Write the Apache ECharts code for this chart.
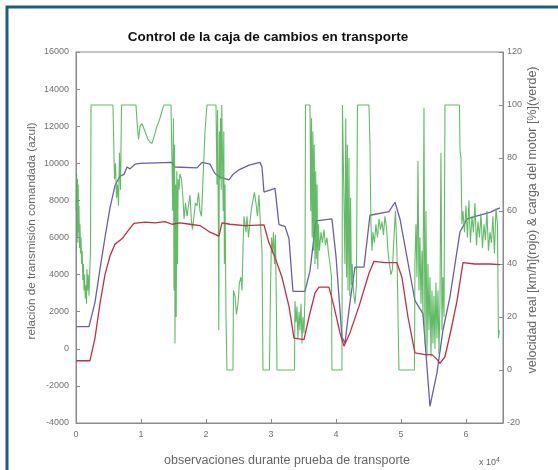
<!DOCTYPE html>
<html>
<head>
<meta charset="utf-8">
<style>
  html, body { margin: 0; padding: 0; background: #ffffff; }
  #chart { width: 558px; height: 470px; }
</style>
<script src="https://cdn.jsdelivr.net/npm/echarts@6/dist/echarts.min.js"></script>
</head>
<body>
<div id="chart"></div>
<script>
// Observations are in units of 10^4 samples.
const xTicks = [0, 1, 2, 3, 4, 5, 6];
const ratioTicks = [-4000, -2000, 0, 2000, 4000, 6000, 8000, 10000, 12000, 14000, 16000];
const rightTicks = [-20, 0, 20, 40, 60, 80, 100, 120];

// Commanded gear ratio (blue, left axis)
const ratioObs = [0.000, 0.200, 0.292, 0.369, 0.446, 0.523, 0.600, 0.677, 0.738, 0.785, 0.831, 0.908, 0.985, 1.477, 1.523, 1.862, 1.938, 2.062, 2.138, 2.215, 2.354, 2.415, 2.508, 2.662, 2.831, 2.862, 2.892, 3.062, 3.123, 3.215, 3.277, 3.338, 3.523, 3.600, 3.692, 3.938, 4.000, 4.092, 4.138, 4.215, 4.292, 4.431, 4.523, 4.815, 4.908, 4.985, 5.215, 5.338, 5.446, 5.554, 5.646, 5.754, 5.908, 6.015, 6.215, 6.369, 6.523];
const ratioVal = [1200, 1200, 2500, 4300, 6000, 7600, 8800, 9300, 9400, 9800, 9700, 9950, 10000, 10050, 9800, 9750, 10050, 9950, 9450, 9250, 9100, 9400, 9650, 9900, 10050, 9800, 8450, 8650, 6700, 6600, 5950, 3100, 3100, 4200, 6900, 7000, 5000, 650, 300, 2500, 4400, 4400, 7200, 7400, 7900, 7000, 2600, 1900, -3100, -1300, 1000, 2800, 6300, 7000, 7200, 7350, 7600];

// Real speed in km/h (red, right axis)
const speedObs = [0.000, 0.215, 0.292, 0.369, 0.446, 0.523, 0.600, 0.708, 0.800, 0.892, 1.062, 1.215, 1.369, 1.477, 1.600, 1.754, 1.908, 2.062, 2.200, 2.246, 2.369, 2.600, 2.892, 2.969, 3.062, 3.169, 3.277, 3.354, 3.508, 3.585, 3.677, 3.738, 3.892, 3.969, 4.062, 4.123, 4.215, 4.354, 4.508, 4.585, 4.754, 4.938, 5.015, 5.108, 5.215, 5.369, 5.477, 5.554, 5.600, 5.677, 5.769, 5.862, 5.954, 6.138, 6.369, 6.523];
const speedVal = [3.5, 3.5, 12, 25, 36, 43, 47.5, 49.5, 52.5, 55.3, 55.8, 55.5, 56, 55, 55.5, 55, 54.5, 52, 50.5, 55.5, 55, 54.5, 54.8, 48, 42.5, 35, 24, 12, 11.5, 20, 29, 31.3, 31.3, 24, 14, 9, 14, 24, 36.5, 41, 40.5, 40.5, 35, 20, 6.5, 5.8, 5.8, 4, 2.5, 5, 15, 26, 40.5, 40, 40, 39.8];

// Engine load in % (green, right axis)
const loadObs = [0.003, 0.009, 0.015, 0.022, 0.028, 0.034, 0.040, 0.046, 0.054, 0.062, 0.069, 0.077, 0.086, 0.095, 0.105, 0.114, 0.123, 0.132, 0.142, 0.151, 0.162, 0.169, 0.178, 0.188, 0.200, 0.223, 0.231,
  0.569, 0.592, 0.608, 0.623, 0.638, 0.654, 0.669, 0.685, 0.700,
  0.923, 0.938, 0.962, 0.985, 1.015, 1.062, 1.108, 1.138, 1.169, 1.200, 1.246, 1.292, 1.338, 1.354,
  1.462, 1.477, 1.489, 1.498, 1.508, 1.517, 1.523, 1.532, 1.542, 1.551, 1.562, 1.572, 1.585,
  1.600, 1.623, 1.646, 1.662, 1.685, 1.708, 1.731, 1.754, 1.777, 1.792, 1.815, 1.838, 1.862, 1.885, 1.908, 1.931, 1.954, 1.985, 2.015,
  2.154, 2.169, 2.178, 2.188, 2.197, 2.206, 2.215, 2.225, 2.234, 2.243, 2.254, 2.265, 2.274, 2.283, 2.292, 2.308, 2.323,
  2.415, 2.423, 2.446, 2.469, 2.492, 2.515, 2.538, 2.554, 2.569, 2.585, 2.615, 2.631, 2.654, 2.677, 2.700, 2.723, 2.746, 2.769, 2.792, 2.815, 2.838, 2.862, 2.877,
  2.977, 2.992, 3.008, 3.023, 3.038, 3.054, 3.069, 3.085, 3.092,
  3.362, 3.369, 3.385, 3.400, 3.415, 3.431, 3.446, 3.462, 3.477, 3.492, 3.508, 3.523, 3.531,
  3.600, 3.612, 3.623, 3.634, 3.645, 3.655, 3.666, 3.677, 3.688, 3.698, 3.709, 3.720, 3.731, 3.746, 3.769, 3.792, 3.815, 3.838, 3.862, 3.885, 3.908, 3.931, 3.938,
  4.092, 4.100, 4.123, 4.138, 4.151, 4.163, 4.175, 4.185, 4.200, 4.212, 4.225, 4.237, 4.249, 4.269, 4.292, 4.315, 4.331,
  4.508, 4.523, 4.538, 4.554, 4.569, 4.592, 4.615, 4.638, 4.662, 4.685, 4.708, 4.731, 4.754, 4.777, 4.800, 4.823, 4.846, 4.869, 4.892, 4.915, 4.938, 4.969,
  5.208, 5.215, 5.231, 5.246, 5.262, 5.277, 5.292, 5.308, 5.323, 5.338, 5.354, 5.369, 5.385, 5.400, 5.415, 5.431, 5.446, 5.462, 5.477, 5.492, 5.508, 5.523, 5.538, 5.554, 5.569, 5.585, 5.600, 5.615, 5.631, 5.646, 5.662, 5.677,
  5.900, 5.908, 5.923, 5.938, 5.954, 5.977, 6.000, 6.023, 6.046, 6.069, 6.092, 6.115, 6.138, 6.162, 6.185, 6.208, 6.231, 6.254, 6.277, 6.300, 6.323, 6.346, 6.369, 6.392, 6.415, 6.438, 6.462, 6.485, 6.500, 6.515];
const loadVal = [60, 74, 50, 72, 48, 70, 52, 62, 46, 55, 44, 50, 40, 45, 34, 40, 30, 36, 27, 32, 25, 38, 30, 36, 28, 45, 100,
  100, 72, 78, 65, 70, 62, 82, 68, 100,
  100, 94, 87, 92, 93, 90, 87, 86, 85.5, 88, 92, 95, 99, 100,
  100, 100, 60, 95, 30, 85, 10, 70, 20, 75, 40, 72, 68,
  74, 72, 65, 57, 63, 58, 62, 66, 56, 53, 58, 63, 62, 67, 60, 58, 72, 90, 100,
  100, 70, 98, 65, 15, 90, 72, 95, 68, 100, 100, 60, 90, 40, 70, 20, 0,
  0, 30, 28, 21, 25, 33, 35, 30, 45, 58, 52, 58, 50, 56, 61, 64, 67, 63, 58, 66, 55, 45, 0,
  0, 30, 50, 44, 52, 40, 51, 20, 0,
  0, 26, 18, 24, 12, 22, 15, 25, 10, 20, 14, 28, 100,
  100, 60, 95, 50, 90, 45, 85, 40, 75, 42, 70, 38, 55, 45, 52, 48, 53, 47, 50, 44, 40, 35, 0,
  0, 100, 100, 40, 95, 35, 85, 30, 80, 28, 65, 32, 40, 30, 25, 32, 100,
  100, 85, 55, 45, 52, 48, 55, 50, 57, 53, 56, 51, 58, 54, 45, 40, 36, 38, 50, 60, 45, 0,
  0, 40, 55, 35, 79, 30, 50, 25, 45, 20, 99, 10, 60, 5, 40, 15, 35, 5, 30, 10, 28, 8, 33, 12, 30, 6, 25, 82, 15, 35, 20, 100,
  100, 83, 80, 55, 60, 52, 62, 50, 64, 48, 58, 52, 63, 47, 56, 50, 59, 46, 55, 49, 60, 45, 52, 48, 58, 44, 61, 55, 12, 15];

const pairs = (xs, ys) => xs.map((x, i) => [x, ys[i]]);

const FONT = '"Liberation Sans", Arial, sans-serif';
const GREY = '#707070';
const AXIS = '#8a8a8a';

const chart = echarts.init(document.getElementById('chart'), null, { renderer: 'canvas' });

chart.setOption({
  backgroundColor: '#ffffff',
  animation: false,
  textStyle: { fontFamily: FONT },
  grid: {
    left: 76, right: 55, top: 52, bottom: 47,
    show: true, backgroundColor: '#ffffff', borderColor: AXIS, borderWidth: 1
  },
  xAxis: {
    type: 'value', min: 0, max: 6.57, interval: 1,
    axisLine: { onZero: false, lineStyle: { color: AXIS } },
    axisTick: { inside: true, length: 4, lineStyle: { color: AXIS } },
    axisLabel: {
      color: GREY, fontSize: 9, margin: 7,
      formatter: v => (xTicks.indexOf(Math.round(v * 1000) / 1000) >= 0 ? String(v) : '')
    },
    splitLine: { show: false }
  },
  yAxis: [
    {
      type: 'value', min: ratioTicks[0], max: ratioTicks[ratioTicks.length - 1], interval: 2000,
      position: 'left',
      axisLine: { show: true, onZero: false, lineStyle: { color: AXIS } },
      axisTick: { show: true, inside: true, length: 4, lineStyle: { color: AXIS } },
      axisLabel: { color: GREY, fontSize: 9, margin: 7, formatter: v => String(v) },
      splitLine: { show: false }
    },
    {
      type: 'value', min: rightTicks[0], max: rightTicks[rightTicks.length - 1], interval: 20,
      position: 'right',
      axisLine: { show: true, onZero: false, lineStyle: { color: AXIS } },
      axisTick: { show: true, inside: true, length: 4, lineStyle: { color: AXIS } },
      axisLabel: { color: GREY, fontSize: 9, margin: 4, formatter: v => String(v) },
      splitLine: { show: false }
    }
  ],
  series: [
    {
      name: 'relación', type: 'line', yAxisIndex: 0, showSymbol: false,
      data: pairs(ratioObs, ratioVal),
      lineStyle: { color: '#6a5fa6', width: 1.3 }, z: 2
    },
    {
      name: 'carga', type: 'line', yAxisIndex: 1, showSymbol: false,
      data: pairs(loadObs, loadVal),
      lineStyle: { color: '#47b04b', width: 1.1, opacity: 0.85 }, z: 3
    },
    {
      name: 'velocidad', type: 'line', yAxisIndex: 1, showSymbol: false,
      data: pairs(speedObs, speedVal),
      lineStyle: { color: '#c02f45', width: 1.3 }, z: 4
    }
  ],
  graphic: [
    {
      type: 'rect', silent: true, z: 100,
      shape: { x: 7, y: 7, width: 560, height: 470 },
      style: { fill: 'none', stroke: '#1f5d7c', lineWidth: 3 }
    },
    {
      type: 'text', x: 268, y: 37, z: 100,
      style: {
        text: 'Control de la caja de cambios en transporte',
        font: 'bold 13.5px ' + FONT, fill: '#111111',
        textAlign: 'center', textVerticalAlign: 'middle'
      }
    },
    {
      type: 'text', x: 287, y: 461, z: 100,
      style: {
        text: 'observaciones durante prueba de transporte',
        font: '12.5px ' + FONT, fill: '#666666',
        textAlign: 'center', textVerticalAlign: 'middle'
      }
    },
    {
      type: 'text', x: 479, y: 463, z: 100,
      style: {
        text: 'x 10{s|4}',
        font: '9px ' + FONT, fill: '#666666',
        textAlign: 'left', textVerticalAlign: 'middle',
        rich: { s: { fontSize: 7, verticalAlign: 'top', padding: [0, 0, 6, 0], fill: '#666666' } }
      }
    },
    {
      type: 'text', x: 32, y: 231, rotation: Math.PI / 2, z: 100,
      style: {
        text: 'relación de transmisión comandada (azul)',
        font: '11.7px ' + FONT, fill: '#666666',
        textAlign: 'center', textVerticalAlign: 'middle'
      }
    },
    {
      type: 'text', x: 533, y: 220, rotation: Math.PI / 2, z: 100,
      style: {
        text: 'velocidad real [km/h](rojo) & carga del motor [%](verde)',
        font: '12.5px ' + FONT, fill: '#666666',
        textAlign: 'center', textVerticalAlign: 'middle'
      }
    }
  ]
});
</script>
</body>
</html>
